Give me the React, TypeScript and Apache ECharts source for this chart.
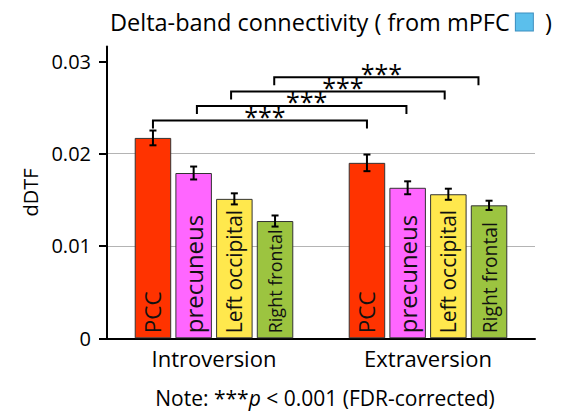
import React, { useEffect, useRef } from 'react';
import * as echarts from 'echarts';

const groups = ['Introversion', 'Extraversion'];
const regions = ['PCC', 'precuneus', 'Left occipital', 'Right frontal'];
const regionColors = ['#ff3300', '#ff66ff', '#ffe84d', '#9cc440'];
const introMeans = [0.0217, 0.0179, 0.0151, 0.0127];
const introErrors = [0.0008, 0.0007, 0.0006, 0.0006];
const extraMeans = [0.019, 0.0163, 0.0156, 0.0144];
const extraErrors = [0.0009, 0.0007, 0.0006, 0.0005];
const yTicks = [0, 0.01, 0.02, 0.03];
const yMax = 0.0316;
// significance brackets (Introversion region vs Extraversion region)
const bracketLeftSlots = [0, 1.08, 1.92, 2.98];
const bracketRightSlots = [0, 0.97, 1.91, 2.74];
const bracketLevels = [0.02358, 0.02517, 0.02672, 0.02828];
const bracketLabels = ['***', '***', '***', '***'];

const FONT = 'Open Sans';
const BAR_W = 36.5;
const BAR_GAP = 0.115;
const SLOT = BAR_W * (1 + BAR_GAP);
const labelSizes = [[22.5, 22.5], [24, 24], [21, 21], [18, 19.3]];

export default function App() {
  const ref = useRef<HTMLDivElement>(null);
  useEffect(() => {
    if (!ref.current) return;
    const chart = echarts.init(ref.current, null, { renderer: 'svg' });
    const means = [introMeans, extraMeans];
    const errs = [introErrors, extraErrors];

    const barSeries = regions.map((name, i) => ({
      type: 'bar',
      name,
      barWidth: BAR_W,
      barGap: (BAR_GAP * 100).toFixed(1) + '%',
      data: groups.map((_, g) => ({
        value: means[g][i],
        label: { fontSize: labelSizes[i][g] },
      })),
      itemStyle: { color: regionColors[i], borderColor: '#333', borderWidth: 1 },
      label: {
        show: true,
        position: 'insideBottom',
        rotate: 90,
        align: 'left',
        verticalAlign: 'middle',
        distance: 5,
        formatter: '{a}',
        color: '#111',
        fontFamily: FONT,
      },
      z: 2,
    }));

    const errSeries = regions.map((name, i) => ({
      type: 'custom',
      name: name + ' err',
      silent: true,
      z: 5,
      encode: { x: 0, y: 1 },
      data: groups.map((_, g) => [g, means[g][i], errs[g][i]]),
      renderItem: (params: any, api: any) => {
        const cat = api.value(0);
        const m = api.value(1);
        const e = api.value(2);
        const top = api.coord([cat, m + e]);
        const bot = api.coord([cat, m - e]);
        const x = top[0] + (i - 1.5) * SLOT;
        const st = { stroke: '#000', lineWidth: 2 };
        return {
          type: 'group',
          children: [
            { type: 'line', shape: { x1: x, y1: top[1], x2: x, y2: bot[1] }, style: st },
            { type: 'line', shape: { x1: x - 3.5, y1: top[1], x2: x + 3.5, y2: top[1] }, style: st },
            { type: 'line', shape: { x1: x - 3.5, y1: bot[1], x2: x + 3.5, y2: bot[1] }, style: st },
          ],
        };
      },
    }));

    const bracketSeries = {
      type: 'custom',
      name: 'brackets',
      silent: true,
      z: 6,
      encode: { x: 0, y: 1 },
      data: bracketLevels.map((lv, k) => [0, lv, bracketLeftSlots[k], bracketRightSlots[k], k]),
      renderItem: (params: any, api: any) => {
        const lv = api.value(1);
        const sl = api.value(2);
        const sr = api.value(3);
        const k = api.value(4);
        const pl = api.coord([0, lv]);
        const pr = api.coord([1, lv]);
        const xl = pl[0] + (sl - 1.5) * SLOT;
        const xr = pr[0] + (sr - 1.5) * SLOT;
        const y = pl[1];
        return {
          type: 'group',
          children: [
            {
              type: 'polyline',
              shape: { points: [[xl, y + 8], [xl, y], [xr, y], [xr, y + 8]] },
              style: { stroke: '#000', lineWidth: 2, fill: 'none' },
            },
            {
              type: 'text',
              style: {
                text: bracketLabels[k],
                x: (xl + xr) / 2 + 5,
                y: y + 8,
                align: 'center',
                verticalAlign: 'bottom',
                fontSize: 25,
                fontFamily: FONT,
                fill: '#000',
              },
            },
          ],
        };
      },
    };

    chart.setOption({
      animation: false,
      textStyle: { fontFamily: FONT },
      grid: { left: 107, right: 39, top: 46.5, bottom: 73.7 },
      xAxis: {
        type: 'category',
        data: groups,
        axisLine: { lineStyle: { color: '#000', width: 2 } },
        axisTick: { show: false },
        axisLabel: { fontSize: 22, color: '#000', margin: 9, fontFamily: FONT },
        splitLine: { show: false },
      },
      yAxis: {
        type: 'value',
        min: 0,
        max: yMax,
        interval: 0.01,
        name: 'dDTF',
        nameLocation: 'middle',
        nameGap: 64,
        nameTextStyle: { fontSize: 20, color: '#000', fontFamily: FONT },
        axisLine: { show: true, lineStyle: { color: '#000', width: 2 } },
        axisTick: { show: true, length: 8, lineStyle: { color: '#000', width: 2 }, customValues: yTicks },
        axisLabel: {
          customValues: yTicks,
          formatter: (v: number) => (v === 0 ? '0' : v.toFixed(2)),
          fontSize: 20,
          color: '#000',
          margin: 16,
          fontFamily: FONT,
        },
        splitLine: { show: true, showMinLine: false, showMaxLine: false, lineStyle: { color: '#b4b4b4', width: 1 } },
      },
      graphic: [
        {
          type: 'text',
          x: 331,
          y: 22,
          style: {
            text: 'Delta-band connectivity ( from mPFC {box|}  )',
            rich: {
              box: { width: 17, height: 17, backgroundColor: '#5bbfec', borderColor: '#3d8fbf', borderWidth: 1 },
            },
            align: 'center',
            verticalAlign: 'middle',
            fontSize: 23.5,
            fontFamily: FONT,
            fill: '#000',
          },
        },
        {
          type: 'text',
          x: 325,
          y: 398,
          style: {
            text: 'Note: ***{i|p} < 0.001 (FDR-corrected)',
            rich: { i: { fontStyle: 'italic', fontSize: 21, fontFamily: FONT } },
            align: 'center',
            verticalAlign: 'middle',
            fontSize: 21,
            fontFamily: FONT,
            fill: '#000',
          },
        },
      ],
      series: [...barSeries, ...errSeries, bracketSeries],
    });
    return () => chart.dispose();
  }, []);
  return <div ref={ref} style={{ width: 574, height: 412, position: 'absolute', left: 0, top: 0 }} />;
}
